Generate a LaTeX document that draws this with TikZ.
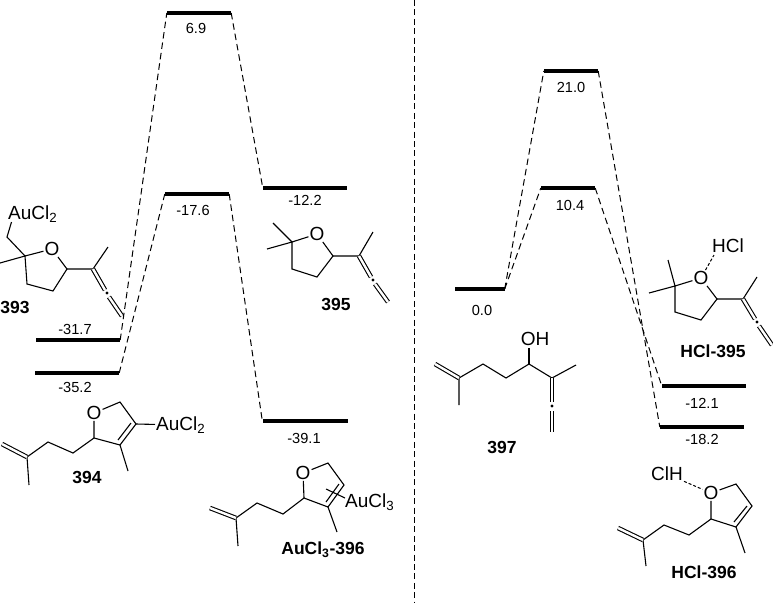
\documentclass[tikz,border=0pt]{standalone}
\usepackage{fontspec}
\setmainfont{Liberation Sans}
\tikzset{
  level/.style={fill=black, inner sep=0pt, minimum height=4pt},
  path/.style={draw, line width=1pt, dash pattern=on 6.5pt off 4pt},
  energy/.style={font=\fontsize{14.6}{16}\selectfont, inner sep=0pt},
  atom/.style={font=\fontsize{19}{21}\selectfont, inner sep=1pt},
  compound/.style={font=\fontsize{17.5}{20}\selectfont\bfseries, inner sep=0pt},
  bond/.style={draw, line width=1.1pt},
  dbond/.style={draw, line width=1.1pt, double, double distance=2.4pt},
  hbond/.style={draw, line width=1pt, dash pattern=on 3pt off 2pt}
}
\begin{document}
\begin{tikzpicture}[x=1pt, y=-1pt]
\useasboundingbox (0,0) rectangle (773,603);
% left profile
\node[level, minimum width=64pt] (a) at (199,13) {};
\node[level, minimum width=64pt] (b) at (197,194) {};
\node[level, minimum width=84pt] (c) at (305,188) {};
\node[level, minimum width=84pt] (d) at (78,340) {};
\node[level, minimum width=84pt] (e) at (77,373) {};
\node[level, minimum width=85pt] (f) at (305,421) {};
\draw[path] (d.east) -- (a.west);
\draw[path] (a.east) -- (c.west);
\draw[path] (e.east) -- (b.west);
\draw[path] (b.east) -- (f.west);
\node[energy] (a1) at (196,28) {6.9};
\node[energy] (b1) at (193,210) {-17.6};
\node[energy] (c1) at (305,200) {-12.2};
\node[energy] (d1) at (75,329) {-31.7};
\node[energy] (e1) at (75,387) {-35.2};
\node[energy] (f1) at (304,438) {-39.1};
% right profile
\node[level, minimum width=54pt] (g) at (571,71) {};
\node[level, minimum width=54pt] (h) at (568,188) {};
\node[level, minimum width=50pt] (i) at (479.5,289) {};
\node[level, minimum width=84pt] (j) at (704,386) {};
\node[level, minimum width=84pt] (k) at (702,427) {};
\draw[path] (i.east) -- (g.west);
\draw[path] (i.east) -- (h.west);
\draw[path] (g.east) -- (k.west);
\draw[path] (h.east) -- (j.west);
\node[energy] (g1) at (571,87) {21.0};
\node[energy] (h1) at (570,205) {10.4};
\node[energy] (i1) at (482,310) {0.0};
\node[energy] (j1) at (702,403) {-12.1};
\node[energy] (k1) at (702,439) {-18.2};
% divider
\coordinate (top) at (414,0);
\coordinate (bottom) at (414,603);
\draw[line width=1pt, dash pattern=on 6pt off 3.4pt] (top) -- (bottom);
% 393
\node[atom, anchor=west] (au393) at (7,214) {AuCl\textsubscript{2}};
\node[atom] (o393) at (52,249) {O};
\node[compound] (l393) at (15,307) {393};
\draw[bond] (11.5,222) -- (7,237) -- (25,256) -- (o393);
\draw[bond] (0,263) -- (25,256) -- (27,284) -- (53,291) -- (67,269) -- (o393);
\draw[bond] (67,269) -- (93,269) -- (108,247);
\draw[dbond] (93,269) -- (105,290);
\fill (107,293) circle (1.7pt);
\draw[dbond] (109,297) -- (122,316);
% 394
\node[atom] (o394) at (94,413) {O};
\node[atom, anchor=west] (au394) at (155,425) {AuCl\textsubscript{2}};
\node[compound] (l394) at (87,477) {394};
\draw[bond] (o394) -- (120,402) -- (136,424) -- (120,445) -- (94,438) -- (o394);
\draw[bond] (131,423) -- (118,440);
\draw[bond] (136,424) -- (au394);
\draw[bond] (120,445) -- (128,471);
\draw[bond] (94,438) -- (73,453) -- (48,442) -- (27,457) -- (29,485);
\draw[dbond] (27,457) -- (2,444);
% 395
\node[atom] (o395) at (317,234) {O};
\node[compound] (l395) at (336,304) {395};
\draw[bond] (273,223) -- (292,242) -- (o395);
\draw[bond] (267,249) -- (292,242) -- (292,269) -- (317,277) -- (333,256) -- (o395);
\draw[bond] (333,256) -- (359,256) -- (373,232);
\draw[dbond] (359,256) -- (371,277);
\fill (373,280) circle (1.7pt);
\draw[dbond] (375,284) -- (388,302);
% 396 with AuCl3
\node[atom] (o396) at (303,473) {O};
\node[atom, anchor=west] (au396) at (344,502) {AuCl\textsubscript{3}};
\node[compound] (l396) at (323,550) {AuCl\textsubscript{3}-396};
\draw[bond] (o396) -- (328,463) -- (344,485) -- (328,507) -- (304,498) -- (o396);
\draw[bond] (339,484) -- (326,502);
\draw[bond] (326,489) -- (345,498);
\draw[bond] (328,507) -- (337,532);
\draw[bond] (304,498) -- (283,514) -- (257,503) -- (236,518) -- (238,546);
\draw[dbond] (236,518) -- (210,508);
% 397
\node[atom] (oh397) at (535,339) {OH};
\node[compound] (l397) at (502,447) {397};
\draw[bond] (529,364) -- (529,348);
\draw[bond] (459,405) -- (459,378) -- (483,364) -- (506,378) -- (529,364) -- (552,378) -- (576,365);
\draw[dbond] (459,378) -- (435,364);
\draw[dbond] (552,378) -- (552,402);
\fill (552,406) circle (1.7pt);
\draw[dbond] (552,411) -- (552,432);
% HCl-395
\node[atom] (o398) at (701,278) {O};
\node[atom] (hcl398) at (728,246) {HCl};
\node[compound] (l398) at (713,351) {HCl-395};
\draw[hbond] (o398) -- (714,255);
\draw[bond] (668,260) -- (675,286) -- (o398);
\draw[bond] (649,293) -- (675,286) -- (675,312) -- (701,320) -- (717,299) -- (o398);
\draw[bond] (717,299) -- (743,299) -- (757,277);
\draw[dbond] (743,299) -- (755,319);
\fill (757,322) circle (1.7pt);
\draw[dbond] (759,326) -- (772,345);
% HCl-396
\node[atom] (o399) at (711,493) {O};
\node[atom] (hcl399) at (667,474) {ClH};
\node[compound] (l399) at (704,572) {HCl-396};
\draw[hbond] (hcl399) -- (o399);
\draw[bond] (o399) -- (736,484) -- (752,506) -- (736,527) -- (711,519) -- (o399);
\draw[bond] (747,506) -- (734,522);
\draw[bond] (736,527) -- (745,553);
\draw[bond] (711,519) -- (689,535) -- (664,525) -- (643,540) -- (646,566);
\draw[dbond] (643,540) -- (618,528);
\end{tikzpicture}
\end{document}
